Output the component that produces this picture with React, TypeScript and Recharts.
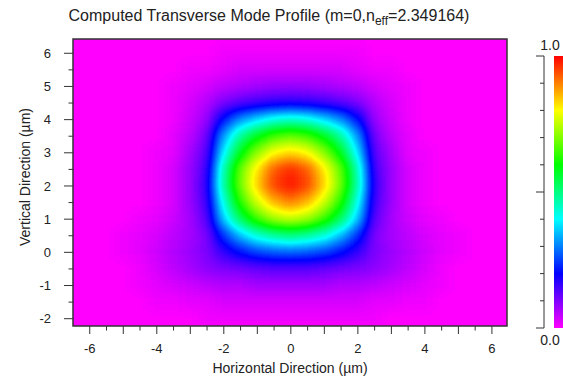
import React from 'react';
import { ScatterChart, Scatter, XAxis, YAxis, ComposedChart, Bar, ReferenceArea } from 'recharts';

// ---- grid of the computed field (cell centres, µm) ----
const X_CENTERS = [-7, -6.5, -6, -5.5, -5, -4.5, -4, -3.5, -3, -2.5, -2, -1.5, -1, -0.5, 0, 0.5, 1, 1.5, 2, 2.5, 3, 3.5, 4, 4.5, 5, 5.5, 6, 6.5, 7];
const Y_CENTERS = [7, 6.5, 6, 5.5, 5, 4.5, 4, 3.5, 3, 2.5, 2, 1.5, 1, 0.5, 0, -0.5, -1, -1.5, -2, -2.5];

// normalised intensity, one row per Y_CENTERS entry, one column per X_CENTERS entry
const FIELD = [
  [0, 0, 0, 0, 0, 0, 0, 0, 0, 0, 0, 0, 0, 0, 0, 0, 0, 0, 0, 0, 0, 0, 0, 0, 0, 0, 0, 0, 0],
  [0, 0, 0, 0, 0, 0, 0, 0, 0, 0, 0, 0, 0, 0, 0, 0, 0, 0, 0, 0, 0, 0, 0, 0, 0, 0, 0, 0, 0],
  [0, 0, 0, 0, 0, 0, 0, 0, 0, 0, .01, .01, .01, .01, .01, .01, .01, .01, .01, 0, 0, 0, 0, 0, 0, 0, 0, 0, 0],
  [0, 0, 0, 0, 0, 0, 0, 0, .01, .01, .02, .03, .03, .03, .03, .03, .03, .03, .02, .01, .01, 0, 0, 0, 0, 0, 0, 0, 0],
  [0, 0, 0, 0, 0, 0, 0, .01, .02, .03, .05, .06, .07, .08, .08, .08, .07, .06, .05, .03, .02, .01, 0, 0, 0, 0, 0, 0, 0],
  [0, 0, 0, 0, 0, 0, 0, .01, .03, .06, .10, .13, .15, .16, .17, .16, .15, .13, .10, .06, .03, .01, 0, 0, 0, 0, 0, 0, 0],
  [0, 0, 0, 0, 0, 0, 0, .01, .04, .08, .21, .31, .37, .42, .44, .42, .37, .31, .21, .08, .04, .01, 0, 0, 0, 0, 0, 0, 0],
  [0, 0, 0, 0, 0, 0, 0, .02, .05, .11, .32, .48, .58, .65, .68, .65, .58, .48, .32, .11, .05, .02, 0, 0, 0, 0, 0, 0, 0],
  [0, 0, 0, 0, 0, 0, .01, .02, .07, .13, .39, .58, .71, .80, .83, .80, .71, .58, .39, .13, .07, .02, .01, 0, 0, 0, 0, 0, 0],
  [0, 0, 0, 0, 0, 0, .01, .03, .08, .15, .46, .68, .82, .93, .97, .93, .82, .68, .46, .15, .08, .03, .01, 0, 0, 0, 0, 0, 0],
  [0, 0, 0, 0, 0, 0, .01, .03, .08, .16, .47, .69, .84, .95, .99, .95, .84, .69, .47, .16, .08, .03, .01, 0, 0, 0, 0, 0, 0],
  [0, 0, 0, 0, 0, 0, .01, .03, .08, .15, .42, .63, .77, .86, .90, .86, .77, .63, .42, .15, .08, .03, .01, 0, 0, 0, 0, 0, 0],
  [0, 0, 0, 0, 0, .01, .02, .04, .07, .13, .36, .53, .65, .73, .76, .73, .65, .53, .36, .13, .07, .04, .02, .01, 0, 0, 0, 0, 0],
  [0, 0, 0, 0, .01, .02, .03, .05, .07, .10, .24, .35, .43, .48, .50, .48, .43, .35, .24, .10, .07, .05, .03, .02, .01, 0, 0, 0, 0],
  [0, 0, 0, 0, .01, .02, .04, .06, .08, .10, .16, .21, .25, .27, .28, .27, .25, .21, .16, .10, .08, .06, .04, .02, .01, 0, 0, 0, 0],
  [0, 0, 0, 0, 0, .01, .03, .05, .07, .09, .10, .11, .12, .13, .13, .13, .12, .11, .10, .09, .07, .05, .03, .01, 0, 0, 0, 0, 0],
  [0, 0, 0, 0, 0, .01, .02, .03, .04, .05, .06, .06, .07, .07, .07, .07, .07, .06, .06, .05, .04, .03, .02, .01, 0, 0, 0, 0, 0],
  [0, 0, 0, 0, 0, 0, .01, .01, .02, .02, .03, .03, .03, .03, .03, .03, .03, .03, .03, .02, .02, .01, .01, 0, 0, 0, 0, 0, 0],
  [0, 0, 0, 0, 0, 0, 0, 0, 0, .01, .01, .01, .01, .01, .01, .01, .01, .01, .01, .01, 0, 0, 0, 0, 0, 0, 0, 0, 0],
  [0, 0, 0, 0, 0, 0, 0, 0, 0, 0, 0, 0, 0, 0, 0, 0, 0, 0, 0, 0, 0, 0, 0, 0, 0, 0, 0, 0, 0],
];

// ---- axes ----
const X_DOMAIN = [-6.5, 6.45];
const Y_DOMAIN = [-2.22, 6.43];
const X_TICKS = [-6, -5.5, -5, -4.5, -4, -3.5, -3, -2.5, -2, -1.5, -1, -0.5, 0, 0.5, 1, 1.5, 2, 2.5, 3, 3.5, 4, 4.5, 5, 5.5, 6];
const X_LABELED = [-6, -4, -2, 0, 2, 4, 6];
const Y_TICKS = [-2, -1.5, -1, -0.5, 0, 0.5, 1, 1.5, 2, 2.5, 3, 3.5, 4, 4.5, 5, 5.5, 6];
const CB_TICKS = [0, 0.1, 0.2, 0.3, 0.4, 0.5, 0.6, 0.7, 0.8, 0.9, 1];
const CB_MAJOR = [0, 0.5, 1];
const CB_DATA = [{ name: 'scale', v: 1 }];

// ---- colour map (magenta -> blue -> cyan -> green -> yellow -> red) ----
const CMAP_STOPS = [0, 0.2, 0.4, 0.6, 0.8, 1];
const CMAP_COLORS = ['#ff00ff', '#0000ff', '#00ffff', '#00ff00', '#ffff00', '#ff0000'];
const CMAP_R = [1, 0, 0, 0, 1, 1];
const CMAP_G = [0, 0, 1, 1, 1, 0];
const CMAP_B = [1, 1, 1, 0, 0, 0];

const TITLE_MAIN = 'Computed Transverse Mode Profile (m=0,n';
const TITLE_SUB = 'eff';
const TITLE_END = '=2.349164)';
const X_LABEL = 'Horizontal Direction (µm)';
const Y_LABEL = 'Vertical Direction (µm)';

const FONT = '"Liberation Sans", Arial, Helvetica, sans-serif';
const TEXT = '#222';
const LINE = '#333';
const FRAME_W = 1.5;

const W = 563;
const H = 380;
const MARGIN = { top: 39, right: 56, bottom: 0, left: 0 };
const Y_AXIS_W = 73;
const X_AXIS_H = 54;
const PLOT_W = W - MARGIN.left - MARGIN.right - Y_AXIS_W;
const PLOT_H = H - MARGIN.top - MARGIN.bottom - X_AXIS_H;
const STEP = 0.5;
const CELL_W = (PLOT_W / (X_DOMAIN[1] - X_DOMAIN[0])) * STEP;
const CELL_H = (PLOT_H / (Y_DOMAIN[1] - Y_DOMAIN[0])) * STEP;

const cells: { x: number; y: number; v: number }[] = [];
Y_CENTERS.forEach((y, r) => {
  X_CENTERS.forEach((x, c) => {
    cells.push({ x, y, v: FIELD[r][c] });
  });
});

const gray = (v: number) => {
  const g = Math.round(Math.max(0, Math.min(1, v)) * 255);
  return `rgb(${g},${g},${g})`;
};

const renderCell = (p: any) => {
  const { cx, cy, payload } = p;
  if (cx == null || cy == null) return <g />;
  return (
    <rect
      x={cx - CELL_W / 2 - 0.5}
      y={cy - CELL_H / 2 - 0.5}
      width={CELL_W + 1}
      height={CELL_H + 1}
      fill={gray(payload.v)}
      stroke="none"
    />
  );
};

const renderNothing = () => <g />;

const XTick = (p: any) => {
  const { x, y, payload } = p;
  const v = payload.value;
  const major = Number.isInteger(v);
  return (
    <g>
      <line x1={x} y1={y} x2={x} y2={y + (major ? 8 : 4.5)} stroke={LINE} strokeWidth={1} />
      {X_LABELED.includes(v) && (
        <text x={x} y={y + 27} textAnchor="middle" fontFamily={FONT} fontSize={13} fill={TEXT}>
          {String(v)}
        </text>
      )}
    </g>
  );
};

const YTick = (p: any) => {
  const { x, y, payload } = p;
  const v = payload.value;
  const major = Number.isInteger(v);
  return (
    <g>
      <line x1={x - (major ? 9 : 4.5)} y1={y} x2={x} y2={y} stroke={LINE} strokeWidth={1} />
      {major && (
        <text x={x - 22} y={y} dy="0.36em" textAnchor="end" fontFamily={FONT} fontSize={13} fill={TEXT}>
          {String(v)}
        </text>
      )}
    </g>
  );
};

const CbTick = (p: any) => {
  const { x, y, payload } = p;
  const v = payload.value;
  const major = CB_MAJOR.includes(v);
  return (
    <g>
      <line x1={x - (major ? 8 : 4)} y1={y} x2={x} y2={y} stroke={LINE} strokeWidth={1} />
      {v === 1 && (
        <text x={x + 6} y={y - 6} textAnchor="middle" fontFamily={FONT} fontSize={14} fill={TEXT}>
          1.0
        </text>
      )}
      {v === 0 && (
        <text x={x + 6} y={y + 17} textAnchor="middle" fontFamily={FONT} fontSize={14} fill={TEXT}>
          0.0
        </text>
      )}
    </g>
  );
};

const XLabel = (p: any) => {
  const vb = p.viewBox || { x: 0, y: 0, width: 0, height: 0 };
  return (
    <text x={vb.x + vb.width / 2} y={vb.y + 47} textAnchor="middle" fontFamily={FONT} fontSize={14} fill={TEXT}>
      {X_LABEL}
    </text>
  );
};

const YLabel = (p: any) => {
  const vb = p.viewBox || { x: 0, y: 0, width: 0, height: 0 };
  const cx = vb.x + 25;
  const cy = vb.y + 138;
  return (
    <text
      x={cx}
      y={cy}
      dy="0.36em"
      transform={`rotate(-90, ${cx}, ${cy})`}
      textAnchor="middle"
      fontFamily={FONT}
      fontSize={14}
      fill={TEXT}
    >
      {Y_LABEL}
    </text>
  );
};

const layer = { position: 'absolute' as const, left: 0, top: 0 };

export default function App() {
  return (
    <div style={{ position: 'absolute', left: 0, top: 0, width: W, height: H, background: '#fff', overflow: 'hidden' }}>
      <style>{`.heat-layer { filter: url(#heatFilter); }`}</style>
      <svg width={0} height={0} style={{ position: 'absolute' }}>
        <defs>
          <filter id="heatFilter" x="-10%" y="-10%" width="120%" height="120%" colorInterpolationFilters="sRGB">
            <feGaussianBlur stdDeviation={6.5} />
            <feComponentTransfer>
              <feFuncR type="table" tableValues={CMAP_R.join(' ')} />
              <feFuncG type="table" tableValues={CMAP_G.join(' ')} />
              <feFuncB type="table" tableValues={CMAP_B.join(' ')} />
              <feFuncA type="table" tableValues="0 1 1 1" />
            </feComponentTransfer>
          </filter>
          <linearGradient id="cbGrad" x1="0" y1="1" x2="0" y2="0">
            {CMAP_STOPS.map((s, i) => (
              <stop key={i} offset={s} stopColor={CMAP_COLORS[i]} />
            ))}
          </linearGradient>
        </defs>
      </svg>

      <svg width={W} height={32} style={layer}>
        <text x={269} y={21} textAnchor="middle" fontFamily={FONT} fontSize={16} fill={TEXT}>
          {TITLE_MAIN}
          <tspan fontSize={12} dy={4}>{TITLE_SUB}</tspan>
          <tspan dy={-4}>{TITLE_END}</tspan>
        </text>
      </svg>

      {/* heat map layer */}
      <div style={layer}>
        <ScatterChart width={W} height={H} margin={MARGIN}>
          <XAxis
            type="number"
            dataKey="x"
            domain={X_DOMAIN}
            allowDataOverflow
            height={X_AXIS_H}
            tick={false}
            tickLine={false}
            axisLine={false}
          />
          <YAxis
            type="number"
            dataKey="y"
            domain={Y_DOMAIN}
            allowDataOverflow
            width={Y_AXIS_W}
            tick={false}
            tickLine={false}
            axisLine={false}
          />
          <Scatter data={cells} className="heat-layer" shape={renderCell} isAnimationActive={false} />
        </ScatterChart>
      </div>

      {/* axes + frame layer, drawn above the heat map */}
      <div style={layer}>
        <ScatterChart width={W} height={H} margin={MARGIN}>
          <Scatter data={cells} shape={renderNothing} isAnimationActive={false} />
          <XAxis
            type="number"
            dataKey="x"
            domain={X_DOMAIN}
            allowDataOverflow
            ticks={X_TICKS}
            interval={0}
            height={X_AXIS_H}
            tickSize={0}
            tickMargin={0}
            axisLine={false}
            tickLine={false}
            tick={<XTick />}
            label={XLabel}
          />
          <YAxis
            type="number"
            dataKey="y"
            domain={Y_DOMAIN}
            allowDataOverflow
            ticks={Y_TICKS}
            interval={0}
            width={Y_AXIS_W}
            tickSize={0}
            tickMargin={0}
            axisLine={false}
            tickLine={false}
            tick={<YTick />}
            label={YLabel}
          />
          <ReferenceArea
            x1={X_DOMAIN[0]}
            x2={X_DOMAIN[1]}
            y1={Y_DOMAIN[0]}
            y2={Y_DOMAIN[1]}
            ifOverflow="visible"
            fill="none"
            fillOpacity={0}
            stroke={LINE}
            strokeOpacity={1}
            strokeWidth={FRAME_W}
          />
        </ScatterChart>
      </div>

      <div style={{ position: 'absolute', left: 520, top: 0 }}>
        <ComposedChart
          width={43}
          height={H}
          data={CB_DATA}
          margin={{ top: 56, right: 0, bottom: 52, left: 0 }}
          barCategoryGap={0}
        >
          <XAxis type="category" dataKey="name" hide padding={{ left: 10, right: 0 }} />
          <YAxis
            type="number"
            domain={[0, 1]}
            ticks={CB_TICKS}
            interval={0}
            width={24}
            tickSize={0}
            tickMargin={0}
            axisLine={{ stroke: LINE }}
            tickLine={false}
            tick={<CbTick />}
          />
          <Bar dataKey="v" fill="url(#cbGrad)" isAnimationActive={false} />
        </ComposedChart>
      </div>
    </div>
  );
}
